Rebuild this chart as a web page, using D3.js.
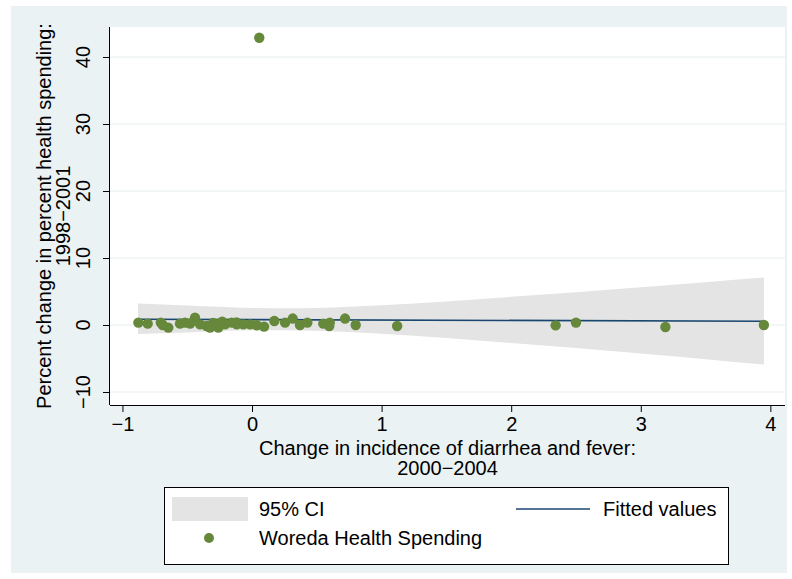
<!DOCTYPE html>
<html>
<head>
<meta charset="utf-8">
<script src="https://cdn.jsdelivr.net/npm/d3@7"></script>
<style>
  body { margin: 0; background: #fff; }
  text { font-family: "Liberation Sans", Arial, sans-serif; fill: #000; }
</style>
</head>
<body>
<svg id="chart" width="792" height="579"></svg>
<script>
// scatter points: change in incidence (x) vs change in health spending (y)
var spendX = [-0.877, -0.805, -0.704, -0.689, -0.646, -0.556, -0.517, -0.44, -0.478, -0.401,
              -0.35, -0.324, -0.3, -0.272, -0.26, -0.23, -0.208, -0.157, -0.12, -0.118,
              -0.067, -0.015, 0.036, 0.093, 0.172, 0.255, 0.314, 0.37, 0.427, 0.55,
              0.60, 0.596, 0.718, 0.80, 1.12, 2.343, 2.5, 3.19, 3.95, 0.056];
var spendY = [0.36, 0.2, 0.36, 0.0, -0.39, 0.2, 0.36, 1.1, 0.2, 0.1,
              -0.15, -0.39, 0.3, 0.1, -0.39, 0.5, 0.1, 0.36, 0.4, 0.1,
              0.1, 0.1, -0.04, -0.24, 0.6, 0.36, 0.96, 0.0, 0.36, 0.2,
              0.36, -0.15, 0.96, 0.0, -0.15, -0.05, 0.36, -0.3, 0.0, 42.87];

// fitted line and 95% CI band
var fitX = [-0.88, 3.95];
var fitY = [0.85, 0.57];
var ciX     = [-0.88, -0.5, 0, 0.25, 0.5, 1.0, 1.5, 2.0, 2.5, 3.0, 3.5, 3.95];
var ciUpper = [3.2, 2.9, 2.55, 2.5, 2.55, 2.95, 3.5, 4.2, 4.9, 5.65, 6.4, 7.1];
var ciLower = [-1.35, -1.1, -0.8, -0.8, -0.87, -1.3, -1.95, -2.7, -3.45, -4.25, -5.1, -5.9];

var xTicks = [-1, 0, 1, 2, 3, 4];
var yTicks = [-10, 0, 10, 20, 30, 40];

var svg = d3.select("#chart");

// outer graph region
svg.append("rect")
	.attr("x", 11).attr("y", 6)
	.attr("width", 776).attr("height", 567)
	.attr("fill", "#eaf2f3");

var plot = {left: 110, right: 785, top: 27, bottom: 405};

svg.append("rect")
	.attr("x", plot.left).attr("y", plot.top)
	.attr("width", plot.right - plot.left).attr("height", plot.bottom - plot.top)
	.attr("fill", "#fff");

var x = d3.scaleLinear().domain([-1.096, 4.113]).range([plot.left, plot.right]);
var y = d3.scaleLinear().domain([-11.94, 44.48]).range([plot.bottom, plot.top]);

// gridlines
svg.selectAll(".grid")
	.data(yTicks)
	.enter()
	.append("line")
	.attr("class", "grid")
	.attr("x1", plot.left).attr("x2", plot.right)
	.attr("y1", function(d) { return y(d); })
	.attr("y2", function(d) { return y(d); })
	.attr("stroke", "#e6eef0")
	.attr("stroke-width", 1);

// CI band
var ciData = ciX.map(function(v, i) { return {x: v, lo: ciLower[i], hi: ciUpper[i]}; });
var area = d3.area()
	.x(function(d) { return x(d.x); })
	.y0(function(d) { return y(d.lo); })
	.y1(function(d) { return y(d.hi); })
	.curve(d3.curveMonotoneX);

svg.append("path")
	.datum(ciData)
	.attr("d", area)
	.attr("fill", "#e4e4e4");

// fitted line
var fitData = fitX.map(function(v, i) { return [v, fitY[i]]; });
svg.append("path")
	.datum(fitData)
	.attr("d", d3.line().x(function(d) { return x(d[0]); }).y(function(d) { return y(d[1]); }))
	.attr("fill", "none")
	.attr("stroke", "#1a476f")
	.attr("stroke-width", 1.6);

// points
var pts = spendX.map(function(v, i) { return [v, spendY[i]]; });
svg.selectAll(".pt")
	.data(pts)
	.enter()
	.append("circle")
	.attr("class", "pt")
	.attr("cx", function(d) { return x(d[0]); })
	.attr("cy", function(d) { return y(d[1]); })
	.attr("r", 5.2)
	.attr("fill", "#66883a");

// axes
var xAxis = d3.axisBottom(x).tickValues(xTicks).tickSize(7).tickPadding(4)
	.tickFormat(function(d) { return d < 0 ? "\u2212" + Math.abs(d) : d; });
var gx = svg.append("g")
	.attr("transform", "translate(0," + plot.bottom + ")")
	.call(xAxis);
gx.select(".domain").attr("d", "M" + plot.left + ",0.5H" + plot.right).attr("stroke", "#000");
gx.selectAll("text").style("font-size", "20px").attr("dy", "0.75em");

var yAxis = d3.axisLeft(y).tickValues(yTicks).tickSize(7).tickFormat("");
var gy = svg.append("g")
	.attr("transform", "translate(" + plot.left + ",0)")
	.call(yAxis);
gy.select(".domain").attr("d", "M-0.5," + plot.top + "V" + plot.bottom).attr("stroke", "#000");

// rotated y tick labels
svg.selectAll(".ylab")
	.data(yTicks)
	.enter()
	.append("text")
	.attr("class", "ylab")
	.attr("transform", function(d) { return "translate(90," + y(d) + ") rotate(-90)"; })
	.attr("text-anchor", "middle")
	.style("font-size", "20px")
	.text(function(d) { return d < 0 ? "\u2212" + Math.abs(d) : d; });

// axis titles
var midY = (plot.top + plot.bottom) / 2;
svg.append("text")
	.attr("transform", "translate(51," + midY + ") rotate(-90)")
	.attr("text-anchor", "middle")
	.style("font-size", "20px")
	.text("Percent change in percent health spending:");
svg.append("text")
	.attr("transform", "translate(70," + midY + ") rotate(-90)")
	.attr("text-anchor", "middle")
	.style("font-size", "20px")
	.text("1998\u22122001");

var midX = (plot.left + plot.right) / 2;
svg.append("text")
	.attr("x", midX).attr("y", 455)
	.attr("text-anchor", "middle")
	.style("font-size", "20px")
	.text("Change in incidence of diarrhea and fever:");
svg.append("text")
	.attr("x", midX).attr("y", 475)
	.attr("text-anchor", "middle")
	.style("font-size", "20px")
	.text("2000\u22122004");

// legend
var legend = svg.append("g");
legend.append("rect")
	.attr("x", 164.5).attr("y", 487.5)
	.attr("width", 564).attr("height", 77)
	.attr("fill", "#fff")
	.attr("stroke", "#000");
legend.append("rect")
	.attr("x", 172).attr("y", 497)
	.attr("width", 76).attr("height", 24)
	.attr("fill", "#e4e4e4");
legend.append("text").attr("x", 259).attr("y", 516).style("font-size", "20px").text("95% CI");
legend.append("line")
	.attr("x1", 516).attr("x2", 590).attr("y1", 509).attr("y2", 509)
	.attr("stroke", "#1a476f").attr("stroke-width", 1.6);
legend.append("text").attr("x", 603).attr("y", 516).style("font-size", "20px").text("Fitted values");
legend.append("circle").attr("cx", 209).attr("cy", 538).attr("r", 5).attr("fill", "#66883a");
legend.append("text").attr("x", 259).attr("y", 545).style("font-size", "20px").text("Woreda Health Spending");
</script>
</body>
</html>
